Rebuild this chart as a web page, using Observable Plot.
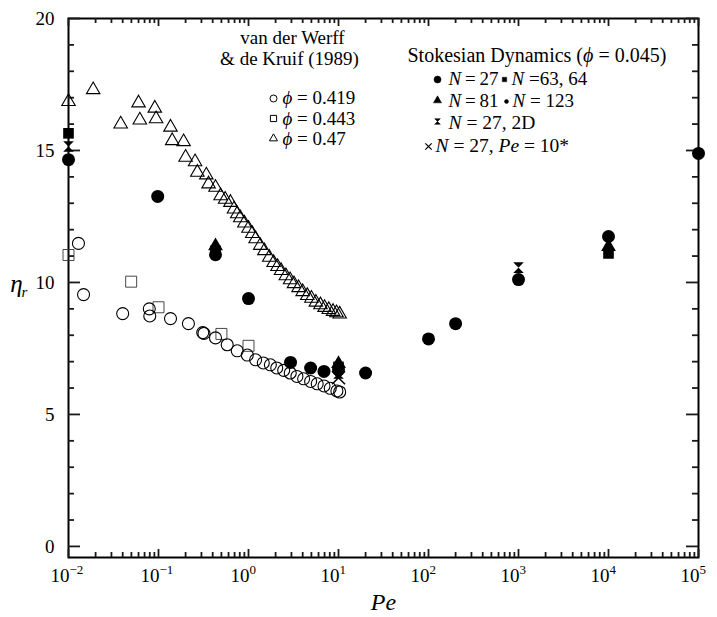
<!DOCTYPE html>
<html><head><meta charset="utf-8">
<script src="https://cdn.jsdelivr.net/npm/d3@7"></script>
<script src="https://cdn.jsdelivr.net/npm/@observablehq/plot@0.6"></script>
<style>body{margin:0;background:#fff;}#chart{width:717px;height:617px;}</style>
</head><body><div id="chart"></div>
<script>
// ---------- data ----------
// van der Werff & de Kruif (1989)
const phi419Pe  = [0.0129,0.0147,0.04,0.079,0.08,0.136,0.215,0.31,0.32,0.43,0.58,0.75,0.97,1.2,1.46,1.75,2.06,2.46,2.91,3.45,4.1,4.9,5.8,6.9,8.1,9.6,10.3];
const phi419Eta = [11.48,9.54,8.82,9.0,8.73,8.63,8.44,8.1,8.07,7.9,7.64,7.41,7.25,7.07,6.95,6.88,6.76,6.67,6.57,6.44,6.35,6.25,6.16,6.08,5.99,5.89,5.85];
const phi443Pe  = [0.01,0.0497,0.1,0.5,1.0];
const phi443Eta = [11.04,10.03,9.06,8.05,7.6];
const phi47Pe  = [0.01,0.0188,0.038,0.06,0.062,0.091,0.094,0.136,0.142,0.19,0.2,0.255,0.27,0.34,0.36,0.43,0.49,0.55,0.63,0.69,0.75,0.81,0.9,1.0,1.1,1.2,1.35,1.5,1.7,1.9,2.1,2.3,2.6,2.9,3.2,3.6,4.0,4.5,5.0,5.6,6.3,7.0,7.8,8.7,9.5,10.3];
const phi47Eta = [16.85,17.3,16.0,16.8,16.15,16.6,16.2,15.88,15.37,15.33,14.74,14.57,14.17,14.07,13.73,13.6,13.28,13.15,13.03,12.78,12.6,12.45,12.25,12.05,11.85,11.65,11.4,11.2,10.95,10.75,10.6,10.45,10.25,10.1,9.95,9.8,9.65,9.5,9.4,9.25,9.15,9.05,8.97,8.9,8.85,8.8];
// Stokesian Dynamics (phi = 0.045)
const n27Pe  = [0.01,0.098,0.43,1.0,2.93,4.9,6.9,10,20,100,200,1000,10000,100000];
const n27Eta = [14.65,13.26,11.05,9.39,6.97,6.76,6.63,6.7,6.57,7.86,8.44,10.11,11.74,14.89];
const n6364Pe  = [0.01,0.43,10,10000];
const n6364Eta = [15.65,11.2,6.8,11.1];
const n81Pe  = [0.43,10,10000];
const n81Eta = [11.38,6.92,11.35];
const n123Pe  = [10];
const n123Eta = [6.6];
const n27twoDPe  = [0.01,10,1000];
const n27twoDEta = [15.15,6.55,10.56];
const n27pe10Pe  = [10];
const n27pe10Eta = [6.39];
// axis ticks
const xExponents = [-2,-1,0,1,2,3,4,5];
const yMajorTicks = [0,5,10,15,20];
const yMinorTicks = [1,2,3,4,6,7,8,9,11,12,13,14,16,17,18,19];
const yTickLabels = ["0","5","10","15","20"];

// ---------- layout ----------
const W = 717, H = 617, mL = 68, mR = 19, mT = 18, mB = 60;
const innerW = W - mL - mR, innerH = H - mT - mB;
const xDomain = [1e-2, 1e5], yDomain = [-0.42, 20];
const serif = "'Liberation Serif','Times New Roman',serif";

const pts = (xs, ys) => xs.map((x, i) => ({x, y: ys[i]}));
const xMajor = xExponents.map(e => 10 ** e);
const xMinor = xExponents.slice(0, -1).flatMap(e => [2,3,4,5,6,7,8,9].map(m => m * 10 ** e));

// inward tick lengths (pixels) converted to scale units
const yPerPx = (yDomain[1] - yDomain[0]) / innerH;
const decPerPx = Math.log10(xDomain[1] / xDomain[0]) / innerW;
const xInLeft = px => xDomain[0] * 10 ** (px * decPerPx);
const xInRight = px => xDomain[1] / 10 ** (px * decPerPx);
const tk = {stroke: "#1a1a1a", strokeWidth: 1.8};
const tickMarks = [
  Plot.ruleX(xMajor, {x: d => d, y1: yDomain[0], y2: yDomain[0] + 8 * yPerPx, ...tk}),
  Plot.ruleX(xMajor, {x: d => d, y1: yDomain[1], y2: yDomain[1] - 8 * yPerPx, ...tk}),
  Plot.ruleX(xMinor, {x: d => d, y1: yDomain[0], y2: yDomain[0] + 5 * yPerPx, ...tk}),
  Plot.ruleX(xMinor, {x: d => d, y1: yDomain[1], y2: yDomain[1] - 5 * yPerPx, ...tk}),
  Plot.ruleY(yMajorTicks, {y: d => d, x1: xDomain[0], x2: xInLeft(12), ...tk}),
  Plot.ruleY(yMajorTicks, {y: d => d, x1: xDomain[1], x2: xInRight(12), ...tk}),
  Plot.ruleY(yMinorTicks, {y: d => d, x1: xDomain[0], x2: xInLeft(6), ...tk}),
  Plot.ruleY(yMinorTicks, {y: d => d, x1: xDomain[1], x2: xInRight(6), ...tk})
];

const hourglass = {
  draw(ctx, size) {
    const s = Math.sqrt(size) / 2;
    ctx.moveTo(-s, -s); ctx.lineTo(s, -s); ctx.lineTo(-s, s); ctx.lineTo(s, s); ctx.closePath();
  }
};

const txt = (t, dx, dy, opts = {}) => Plot.text([t], {
  frameAnchor: "top-left", text: d => d, dx, dy, textAnchor: "start", lineAnchor: "middle",
  fontSize: 20, fontFamily: serif, fill: "black", ...opts
});
const mk = (symbol, dx, dy, r, filled = true) => Plot.dot([0], {
  frameAnchor: "top-left", dx, dy, symbol, r,
  fill: filled ? "black" : "none", stroke: "black", strokeWidth: filled ? 0.5 : 1
});
const T = "\u2009";

const svg = Plot.plot({
  width: W, height: H,
  marginLeft: mL, marginRight: mR, marginTop: mT, marginBottom: mB,
  x: {type: "log", domain: xDomain, axis: null},
  y: {domain: yDomain, axis: null},
  style: {fontFamily: serif},
  marks: [
    Plot.frame({stroke: "black", fill: "none", strokeWidth: 2}),
    ...tickMarks,
    // tick labels
    Plot.text(yMajorTicks, {y: d => d, text: (d, i) => yTickLabels[i], frameAnchor: "left", dx: -14,
      textAnchor: "end", lineAnchor: "middle", fontSize: 19, fontFamily: serif, fill: "black"}),
    Plot.text(xExponents, {x: e => 10 ** e, text: () => "10", frameAnchor: "bottom", dy: 18.5, dx: 1,
      textAnchor: "end", lineAnchor: "middle", fontSize: 19, fontFamily: serif, fill: "black"}),
    Plot.text(xExponents, {x: e => 10 ** e, text: e => (e < 0 ? "\u2212" + (-e) : String(e)), frameAnchor: "bottom",
      dy: 12, dx: 1, textAnchor: "start", lineAnchor: "middle", fontSize: 13, fontFamily: serif, fill: "black"}),
    // axis titles
    Plot.text(["\u03B7"], {frameAnchor: "left", dx: -52, dy: -4, textAnchor: "middle", lineAnchor: "middle",
      fontSize: 25, fontStyle: "italic", fontFamily: serif, fill: "black"}),
    Plot.text(["r"], {frameAnchor: "left", dx: -47, dy: 4, textAnchor: "start", lineAnchor: "middle",
      fontSize: 15, fontStyle: "italic", fontFamily: serif, fill: "black"}),
    Plot.text(["Pe"], {frameAnchor: "bottom", dy: 45, textAnchor: "middle", lineAnchor: "middle",
      fontSize: 24, fontStyle: "italic", fontFamily: serif, fill: "black"}),
    // experimental data (open symbols)
    Plot.dot(pts(phi443Pe, phi443Eta), {x: "x", y: "y", symbol: "square", r: 6.2, fill: "none", stroke: "#333", strokeWidth: 0.9}),
    Plot.dot(pts(phi419Pe, phi419Eta), {x: "x", y: "y", symbol: "circle", r: 6, fill: "none", stroke: "black", strokeWidth: 1.1}),
    Plot.dot(pts(phi47Pe, phi47Eta), {x: "x", y: "y", symbol: "triangle", r: 5, fill: "none", stroke: "black", strokeWidth: 1.1}),
    // Stokesian dynamics (filled symbols)
    Plot.dot(pts(n6364Pe, n6364Eta), {x: "x", y: "y", symbol: "square", r: 6, fill: "black"}),
    Plot.dot(pts(n81Pe, n81Eta), {x: "x", y: "y", symbol: "triangle", r: 5.5, fill: "black"}),
    Plot.dot(pts(n27twoDPe, n27twoDEta), {x: "x", y: "y", symbol: hourglass, r: 6, fill: "black"}),
    Plot.dot(pts(n27Pe, n27Eta), {x: "x", y: "y", symbol: "circle", r: 6.5, fill: "black"}),
    Plot.dot(pts(n123Pe, n123Eta), {x: "x", y: "y", symbol: "circle", r: 4, fill: "black"}),
    Plot.dot(pts(n27pe10Pe, n27pe10Eta), {x: "x", y: "y", symbol: "times", r: 6, stroke: "black", strokeWidth: 1.5}),
    // legend: van der Werff & de Kruif
    txt("van der Werff", 224, 19, {textAnchor: "middle", fontSize: 19}),
    txt("& de Kruif (1989)", 221, 40, {textAnchor: "middle", fontSize: 19}),
    mk("circle", 205, 80, 3.5, false), txt("~\u03D5~ = 0.419", 214, 79.5, {fontSize: 19}),
    mk("square", 205, 100, 3.5, false), txt("~\u03D5~ = 0.443", 214, 100, {fontSize: 19}),
    mk("triangle", 205, 120, 3, false), txt("~\u03D5~ = 0.47", 214, 120.5, {fontSize: 19}),
    // legend: Stokesian Dynamics
    txt("Stokesian Dynamics (~\u03D5~ = 0.045)", 339, 37),
    mk("circle", 369, 61, 3.5), txt(`~N~${T}=${T}27`, 380, 60, {fontSize: 19}),
    mk("square", 436, 61, 2.5), txt("~N~ =63, 64", 443, 60, {fontSize: 19}),
    mk("triangle", 369, 82, 3), txt(`~N~${T}=${T}81`, 380, 82, {fontSize: 19}),
    mk("circle", 438, 83, 2), txt("~N~ = 123", 444, 82, {fontSize: 19}),
    mk(hourglass, 369, 103, 3.2), txt("~N~ = 27, 2D", 380, 104, {fontSize: 19.5}),
    Plot.dot([0], {frameAnchor: "top-left", dx: 360, dy: 128, symbol: "times", r: 3, stroke: "black", strokeWidth: 1.2}),
    txt("~N~ = 27, ~Pe~ = 10*", 367, 127, {fontSize: 19.5})
  ]
});

// italic runs marked with ~...~
svg.querySelectorAll("text").forEach(t => {
  const s = t.textContent;
  if (!s.includes("~")) return;
  t.textContent = "";
  s.split("~").forEach((part, i) => {
    if (!part) return;
    const ts = document.createElementNS("http://www.w3.org/2000/svg", "tspan");
    ts.textContent = part;
    if (i % 2 === 1) ts.setAttribute("font-style", "italic");
    t.appendChild(ts);
  });
});
document.getElementById("chart").appendChild(svg);
</script>
</body></html>
